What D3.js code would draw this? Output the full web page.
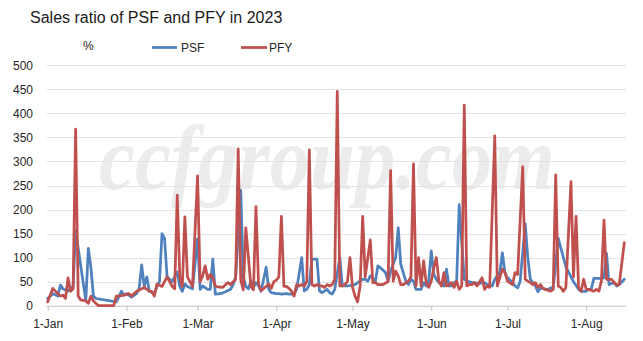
<!DOCTYPE html>
<html><head><meta charset="utf-8">
<script src="https://cdn.jsdelivr.net/npm/d3@7"></script>
<style>html,body{margin:0;padding:0;background:#fff}svg{display:block}</style>
</head><body>
<svg id="chart" width="643" height="341"></svg>
<script>
const titleText = "Sales ratio of PSF and PFY in 2023";
const unitLabel = "%";
const seriesNames = ["PSF", "PFY"];
const yTickValues = [0, 50, 100, 150, 200, 250, 300, 350, 400, 450, 500];
const xTickDates = ["01-01", "02-01", "03-01", "04-01", "05-01", "06-01", "07-01", "08-01"];
const xDomain = ["01-01", "08-16"];

const psfDates = ["01-01","01-03","01-05","01-06","01-07","01-09","01-10","01-11","01-12","01-13","01-16","01-17","01-18","01-19","01-20","01-28","01-30","01-31",
"02-01","02-03","02-05","02-06","02-07","02-08","02-09","02-10","02-12","02-13","02-14","02-15","02-16","02-17","02-19","02-20","02-21","02-22","02-23","02-24","02-25","02-27",
"03-01","03-02","03-03","03-05","03-06","03-07","03-08","03-10","03-11","03-12","03-14","03-15","03-16","03-18","03-19","03-20","03-21","03-22","03-23","03-24","03-25","03-26","03-28","03-29","03-30",
"04-01","04-02","04-03","04-05","04-06","04-08","04-09","04-11","04-12","04-13","04-14","04-15","04-17","04-18","04-19","04-21","04-22","04-23","04-24","04-26","04-27","04-28","04-29",
"05-01","05-02","05-03","05-05","05-06","05-07","05-08","05-10","05-11","05-12","05-14","05-15","05-16","05-18","05-19","05-20","05-22","05-23","05-24","05-25","05-26","05-28","05-29","05-30","05-31",
"06-01","06-02","06-03","06-04","06-06","06-07","06-08","06-09","06-10","06-11","06-12","06-14","06-15","06-17","06-18","06-20","06-21","06-22","06-23","06-25","06-26","06-28","06-29","06-30",
"07-01","07-03","07-04","07-05","07-06","07-08","07-09","07-10","07-12","07-13","07-14","07-16","07-17","07-18","07-19","07-21","07-24","07-27","07-29","07-30",
"08-01","08-02","08-03","08-04","08-06","08-07","08-08","08-09","08-10","08-12","08-13","08-14","08-16"];
const psfValues = [15,25,20,43,35,30,35,40,157,120,10,119,80,20,15,8,30,22,
25,18,25,35,85,40,60,30,25,40,50,150,140,60,50,60,70,40,30,45,40,35,
139,34,41,34,34,97,24,25,27,29,34,44,60,240,60,40,35,51,38,48,41,30,80,34,27,
25,25,24,25,24,24,34,100,31,34,44,97,97,31,27,34,27,24,34,100,41,41,41,
43,44,48,55,55,51,62,51,83,79,69,51,72,100,162,86,51,44,55,51,34,34,48,41,51,
114,65,55,48,41,76,41,41,48,51,210,55,51,48,48,46,48,48,44,41,55,69,110,69,
58,48,41,37,51,170,100,55,41,29,37,34,34,37,37,140,81,50,34,30,
30,34,34,57,57,57,58,109,44,48,41,44,55];

const pfyDates = ["01-01","01-03","01-05","01-06","01-07","01-08","01-09","01-10","01-11","01-12","01-13","01-14","01-16","01-17","01-18","01-19","01-21","01-27","01-28","01-29","01-31",
"02-02","02-03","02-05","02-07","02-08","02-10","02-11","02-12","02-13","02-15","02-16","02-17","02-19","02-20","02-21","02-22","02-23","02-24","02-25","02-26","02-27",
"03-01","03-02","03-03","03-04","03-05","03-06","03-07","03-08","03-09","03-11","03-12","03-13","03-14","03-16","03-17","03-18","03-19","03-20","03-22","03-23","03-24","03-25","03-26","03-28","03-29","03-30","03-31",
"04-01","04-02","04-03","04-04","04-05","04-06","04-07","04-08","04-09","04-10","04-11","04-12","04-13","04-14","04-15","04-16","04-17","04-18","04-19","04-20","04-21","04-22","04-23","04-24","04-25","04-26","04-27","04-28","04-29","04-30",
"05-01","05-02","05-03","05-04","05-05","05-06","05-08","05-09","05-10","05-11","05-12","05-13","05-15","05-16","05-17","05-18","05-19","05-20","05-21","05-22","05-23","05-24","05-25","05-26","05-27","05-28","05-29","05-30","05-31",
"06-01","06-02","06-03","06-04","06-05","06-06","06-07","06-08","06-09","06-10","06-11","06-12","06-13","06-14","06-15","06-16","06-17","06-18","06-19","06-21","06-22","06-23","06-24","06-26","06-27","06-29","06-30",
"07-01","07-03","07-04","07-05","07-07","07-08","07-09","07-10","07-11","07-12","07-13","07-14","07-15","07-16","07-18","07-19","07-20","07-21","07-22","07-23","07-24","07-26","07-27","07-28","07-29","07-30","07-31",
"08-01","08-02","08-04","08-05","08-06","08-07","08-08","08-09","08-11","08-12","08-13","08-14","08-16"];
const pfyValues = [8,36,25,20,22,15,58,30,35,367,20,12,10,5,20,10,0,0,20,20,22,
25,20,30,35,38,30,30,20,45,40,50,60,40,35,230,60,40,185,60,50,40,
270,50,62,83,55,65,58,41,39,38,44,48,44,55,326,53,33,162,40,33,206,46,31,40,45,36,50,
53,60,186,40,40,36,30,20,44,41,44,41,50,324,44,41,44,41,41,38,44,41,44,55,446,41,41,44,50,100,
38,20,8,41,186,60,137,48,48,44,44,44,50,281,51,72,62,44,44,48,51,60,295,41,100,41,93,48,38,
51,79,100,51,41,69,41,44,48,38,51,34,41,417,41,44,44,48,41,58,34,41,38,353,41,76,69,
51,44,69,65,289,55,51,48,44,48,38,44,36,34,30,34,272,41,38,30,38,258,60,186,38,30,55,
34,34,30,34,30,51,178,55,55,48,43,44,131];

const colors = {PSF: "#4f81bd", PFY: "#c0504d"};
const parse = s => d3.timeParse("%Y-%m-%d")("2023-" + s);

const svg = d3.select("#chart");
const W = 643, H = 341;
const left = 47.7, right = 624.3, gridRight = 626;
const x = d3.scaleTime().domain(xDomain.map(parse)).range([left, right]);
const y = d3.scaleLinear().domain([0, 500]).range([305.7, 65.3]);
const font = "'Liberation Sans', Arial, sans-serif";

svg.append("rect").attr("width", W).attr("height", H).attr("fill", "#fff");

// watermark
svg.append("text")
  .attr("x", 99).attr("y", 189)
  .attr("textLength", 456).attr("lengthAdjust", "spacingAndGlyphs")
  .attr("font-family", "'Liberation Serif', 'DejaVu Serif', serif")
  .attr("font-style", "italic").attr("font-weight", "bold").attr("font-size", 90)
  .attr("fill", "#ececec")
  .text("ccfgroup.com");

// gridlines
svg.append("g").selectAll("line")
  .data(yTickValues.filter(v => v > 0))
  .join("line")
  .attr("x1", left - 1).attr("x2", gridRight)
  .attr("y1", d => Math.round(y(d)) + 0.5).attr("y2", d => Math.round(y(d)) + 0.5)
  .attr("stroke", "#e3e3e3").attr("stroke-width", 1);

// y axis labels
const yAxis = d3.axisLeft(y).tickValues(yTickValues).tickSize(0).tickPadding(0);
const gy = svg.append("g").attr("transform", "translate(33,0)").call(yAxis);
gy.select(".domain").remove();
gy.selectAll("text").attr("font-family", font).attr("font-size", 12).attr("fill", "#262626").attr("x", 0).attr("dy", "0.34em");

// x axis
const xAxis = d3.axisBottom(x).tickValues(xTickDates.map(parse))
  .tickFormat(d3.timeFormat("%-d-%b")).tickSize(5).tickSizeOuter(0);
const gx = svg.append("g").attr("transform", "translate(0,306)").call(xAxis);
gx.select(".domain").remove();
gx.selectAll(".tick line").attr("stroke", "#bfbfbf");
gx.selectAll("text").attr("font-family", font).attr("font-size", 12).attr("fill", "#262626").attr("y", 21.5).attr("dy", 0);
svg.append("line").attr("x1", left - 1).attr("x2", gridRight).attr("y1", 306.2).attr("y2", 306.2)
  .attr("stroke", "#bfbfbf").attr("stroke-width", 1);

// lines
const line = d3.line().x(d => x(d.date)).y(d => y(d.value));
const psf = psfDates.map((d, i) => ({date: parse(d), value: psfValues[i]}));
const pfy = pfyDates.map((d, i) => ({date: parse(d), value: pfyValues[i]}));
[[psf, colors.PSF], [pfy, colors.PFY]].forEach(([data, c]) => {
  svg.append("path").datum(data).attr("d", line)
    .attr("fill", "none").attr("stroke", c).attr("stroke-width", 2.75)
    .attr("stroke-linejoin", "round").attr("stroke-linecap", "round");
});

// title
svg.append("text").attr("x", 30).attr("y", 23)
  .attr("font-family", font).attr("font-size", 16).attr("fill", "#1a1a1a")
  .text(titleText);

// legend
svg.append("text").attr("x", 83).attr("y", 50).attr("font-family", font).attr("font-size", 12).attr("fill", "#262626").text(unitLabel);
const legendPos = [{name: seriesNames[0], x1: 152, x2: 177, tx: 181}, {name: seriesNames[1], x1: 241, x2: 267, tx: 269}];
legendPos.forEach(l => {
  svg.append("line").attr("x1", l.x1).attr("x2", l.x2).attr("y1", 47.5).attr("y2", 47.5)
    .attr("stroke", colors[l.name]).attr("stroke-width", 2.75);
  svg.append("text").attr("x", l.tx).attr("y", 51.5).attr("font-family", font).attr("font-size", 12)
    .attr("fill", "#262626").text(l.name);
});
</script>
</body></html>
